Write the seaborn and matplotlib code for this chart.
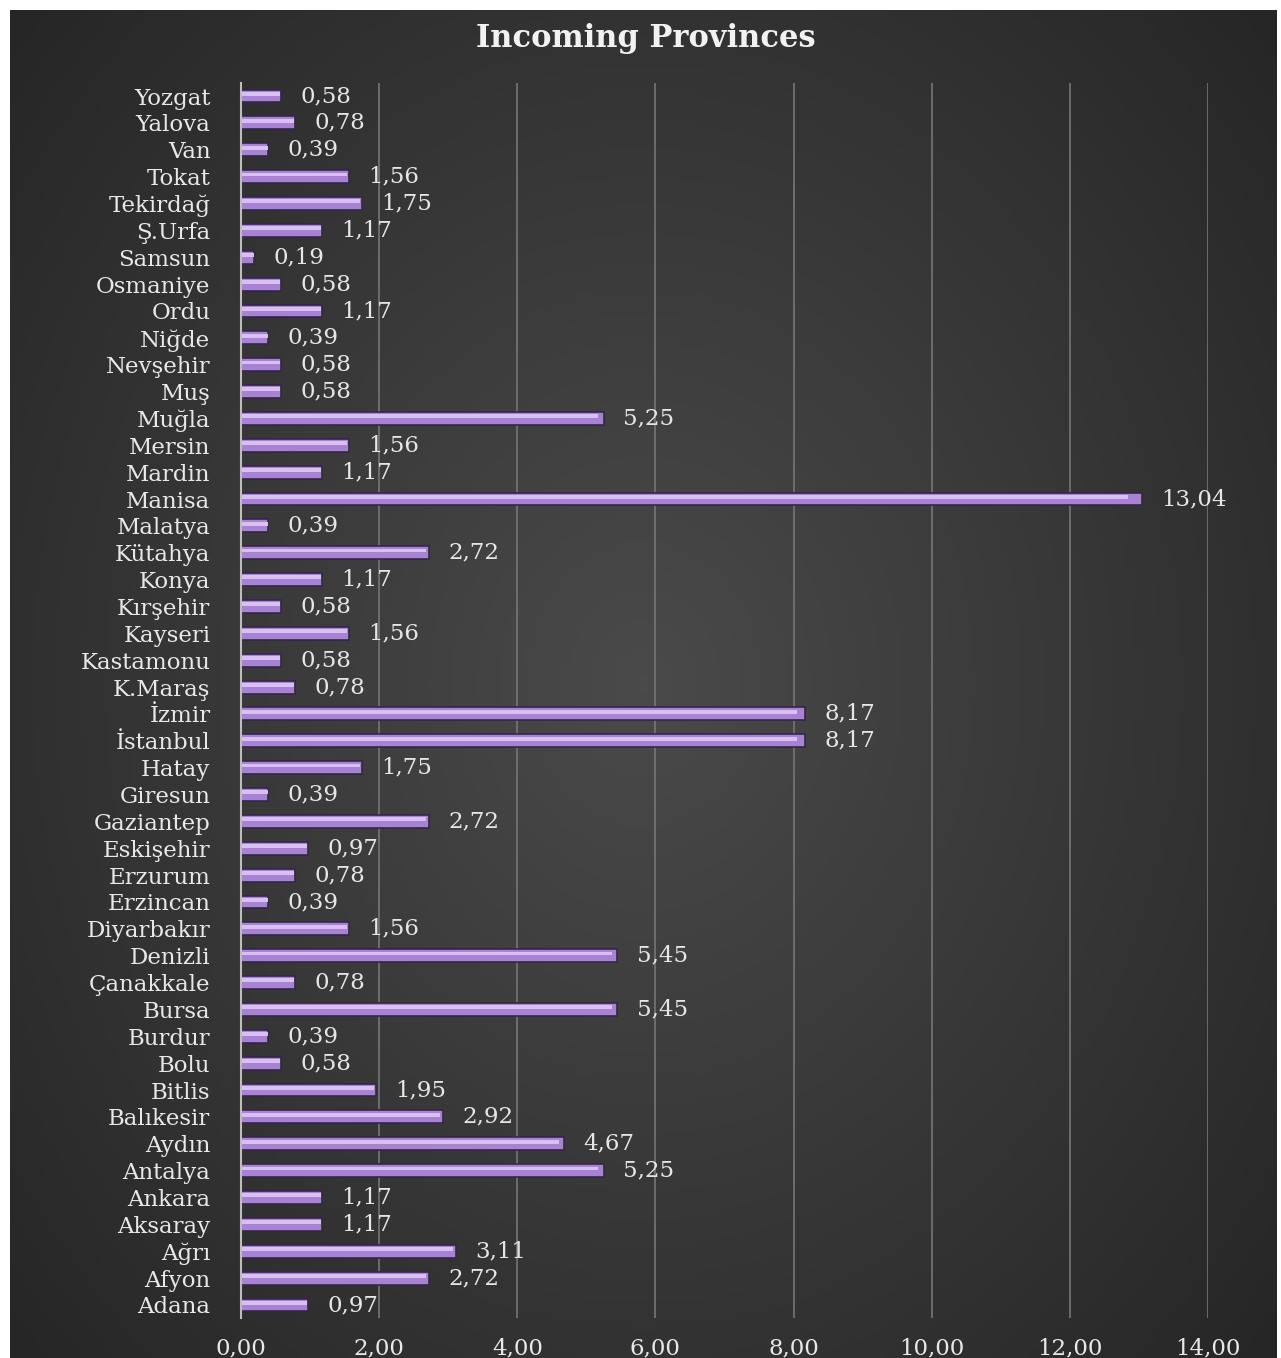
import numpy as np
import pandas as pd
import matplotlib
matplotlib.use("Agg")
import matplotlib.pyplot as plt
import seaborn as sns
from matplotlib.ticker import FuncFormatter

provinces = ["Yozgat", "Yalova", "Van", "Tokat", "Tekirdağ", "Ş.Urfa", "Samsun", "Osmaniye",
             "Ordu", "Niğde", "Nevşehir", "Muş", "Muğla", "Mersin", "Mardin", "Manisa",
             "Malatya", "Kütahya", "Konya", "Kırşehir", "Kayseri", "Kastamonu", "K.Maraş",
             "İzmir", "İstanbul", "Hatay", "Giresun", "Gaziantep", "Eskişehir", "Erzurum",
             "Erzincan", "Diyarbakır", "Denizli", "Çanakkale", "Bursa", "Burdur", "Bolu",
             "Bitlis", "Balıkesir", "Aydın", "Antalya", "Ankara", "Aksaray", "Ağrı",
             "Afyon", "Adana"]
values = [0.58, 0.78, 0.39, 1.56, 1.75, 1.17, 0.19, 0.58,
          1.17, 0.39, 0.58, 0.58, 5.25, 1.56, 1.17, 13.04,
          0.39, 2.72, 1.17, 0.58, 1.56, 0.58, 0.78,
          8.17, 8.17, 1.75, 0.39, 2.72, 0.97, 0.78,
          0.39, 1.56, 5.45, 0.78, 5.45, 0.39, 0.58,
          1.95, 2.92, 4.67, 5.25, 1.17, 1.17, 3.11,
          2.72, 0.97]
xticks = [0, 2, 4, 6, 8, 10, 12, 14]
title = "Incoming Provinces"

df = pd.DataFrame({"province": provinces, "value": values})

sns.set_theme(style="dark")
plt.rcParams["font.family"] = ["DejaVu Serif", "Liberation Serif"]

W, H = 1281, 1358
fig = plt.figure(figsize=(W / 100, H / 100), dpi=100, facecolor="white")

# dark gradient background panel
bg = fig.add_axes([10 / W, 0, 1267 / W, 1348 / H])
yy, xx = np.mgrid[-1:1:300j, -1:1:300j]
r = np.sqrt((xx * 0.9) ** 2 + (yy * 0.8) ** 2)
grad = np.clip(1 - r / 1.3, 0, 1)
bg.imshow(grad, cmap=matplotlib.colors.LinearSegmentedColormap.from_list(
    "g", ["#262626", "#4a4a4a"]), aspect="auto", extent=[0, 1, 0, 1])
bg.set_axis_off()

top_px, bot_px = 82.6, 1318.4
ax = fig.add_axes([241 / W, 1 - bot_px / H, (1208 - 241) / W, (bot_px - top_px) / H])
ax.set_facecolor("none")

sns.barplot(data=df, y="province", x="value", orient="h", ax=ax,
            color="#a883d4", width=0.48, saturation=1,
            edgecolor="#35264a", linewidth=1.2)

# highlight stripe on bars
for p in ax.patches:
    x0, y0 = p.get_x(), p.get_y()
    w, h = p.get_width(), p.get_height()
    ax.add_patch(plt.Rectangle((x0, y0 + h * 0.18), w * 0.985, h * 0.3,
                               facecolor="#d9c0f2", edgecolor="none", zorder=p.get_zorder() + 0.1))

labels = [f"{v:.2f}".replace(".", ",") for v in values]
ax.bar_label(ax.containers[0], labels=labels, padding=14, color="#e6e6e6", fontsize=16.5)

ax.set_xlim(0, 14)
ax.set_xticks(xticks)
ax.xaxis.set_major_formatter(FuncFormatter(lambda v, _: f"{v:.2f}".replace(".", ",")))
ax.grid(axis="x", color="#767676", linewidth=1.2)
ax.grid(axis="y", visible=False)
ax.set_axisbelow(True)
for s in ["top", "right", "bottom"]:
    ax.spines[s].set_visible(False)
ax.spines["left"].set_color("#bdbdbd")
ax.spines["left"].set_linewidth(1.5)
ax.tick_params(axis="both", length=0, colors="#e8e8e8", labelsize=16.5)
ax.tick_params(axis="y", pad=22)
ax.tick_params(axis="x", pad=14)
ax.set_xlabel("")
ax.set_ylabel("")

fig.text(646 / W, 1 - 38 / H, title, ha="center", va="center", color="#f2f2f2",
         fontsize=22, fontweight="bold")

fig.savefig("out.png", dpi=100, facecolor="white")
